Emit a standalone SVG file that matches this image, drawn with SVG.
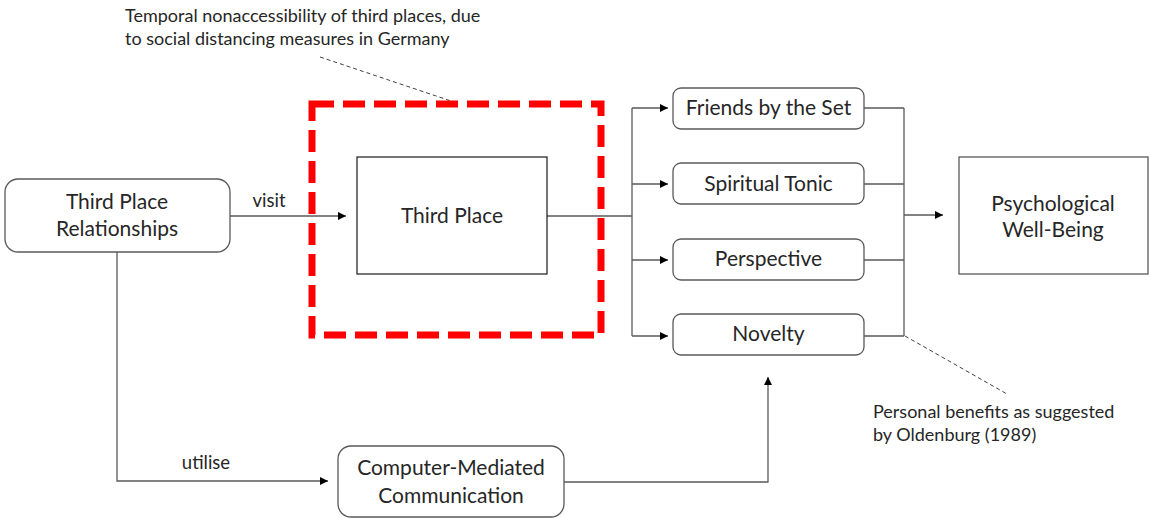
<svg xmlns="http://www.w3.org/2000/svg" width="1149" height="518" viewBox="0 0 1149 518">
<defs>
<marker id="arr" viewBox="0 0 10 10" refX="10" refY="5" markerWidth="8" markerHeight="8" markerUnits="userSpaceOnUse" orient="auto">
<path d="M0,0 L10,5 L0,10 z" fill="#000"/>
</marker>
<style>
.t{font-family:Lato,"Liberation Sans",sans-serif;fill:#262626;text-anchor:middle;font-size:21px}
.lbl{font-family:Lato,"Liberation Sans",sans-serif;fill:#262626;text-anchor:middle;font-size:18.5px}
.a{font-family:Lato,"Liberation Sans",sans-serif;fill:#262626;font-size:18px}
.box{fill:#fff;stroke:#595959;stroke-width:1.3}
.c{fill:none;stroke:#595959;stroke-width:1.3}
.ca{fill:none;stroke:#595959;stroke-width:1.3;marker-end:url(#arr)}
.lead{fill:none;stroke:#404040;stroke-width:1;stroke-dasharray:4 3}
</style>
</defs>
<rect width="1149" height="518" fill="#fff"/>
<g id="connectors">
<path class="ca" d="M230,216 H346"/>
<path class="c" d="M547,216 H632"/>
<path class="c" d="M632,108 V336"/>
<path class="ca" d="M632,108 H668"/>
<path class="ca" d="M632,184 H668"/>
<path class="ca" d="M632,260 H668"/>
<path class="ca" d="M632,336 H668"/>
<path class="c" d="M864,108 H904 M864,184 H904 M864,260 H904 M864,336 H904"/>
<path class="c" d="M904,108 V336"/>
<path class="ca" d="M904,215 H943"/>
<path class="ca" d="M117,252 V481 H328"/>
<path class="ca" d="M564,482 H768 V377"/>
<text class="lbl" x="269" y="207">visit</text>
<text class="lbl" x="206" y="469">utilise</text>
</g>
<g id="annotation-top">
<text class="a" x="125" y="22">Temporal nonaccessibility of third places, due</text>
<text class="a" x="125" y="45">to social distancing measures in Germany</text>
<path class="lead" d="M320,57 L457,103"/>
</g>
<g id="annotation-bottom">
<text class="a" x="873" y="418">Personal benefits as suggested</text>
<text class="a" x="873" y="441">by Oldenburg (1989)</text>
<path class="lead" d="M905,336 L1007,394"/>
</g>
<g id="lockdown-frame">
<rect x="312" y="104" width="289" height="231" fill="none" stroke="#ff0000" stroke-width="7" stroke-dasharray="22 9"/>
</g>
<g id="node-relationships">
<rect class="box" x="5" y="179" width="225" height="73" rx="13"/>
<text class="t" x="117" y="209">Third Place</text>
<text class="t" x="117" y="236">Relationships</text>
</g>
<g id="node-third-place">
<rect x="357" y="157" width="190" height="117" fill="#fff" stroke="#1a1a1a" stroke-width="1.2"/>
<text class="t" x="452" y="223">Third Place</text>
</g>
<g id="node-friends">
<rect class="box" x="673" y="88" width="191" height="41" rx="8"/>
<text class="t" x="768.5" y="115">Friends by the Set</text>
</g>
<g id="node-spiritual">
<rect class="box" x="673" y="163" width="191" height="41" rx="8"/>
<text class="t" x="768.5" y="191">Spiritual Tonic</text>
</g>
<g id="node-perspective">
<rect class="box" x="673" y="239" width="191" height="41" rx="8"/>
<text class="t" x="768.5" y="266">Perspective</text>
</g>
<g id="node-novelty">
<rect class="box" x="673" y="314" width="191" height="41" rx="8"/>
<text class="t" x="768.5" y="341">Novelty</text>
</g>
<g id="node-wellbeing">
<rect class="box" x="959" y="157" width="189" height="117"/>
<text class="t" x="1053" y="211">Psychological</text>
<text class="t" x="1053" y="237">Well-Being</text>
</g>
<g id="node-cmc">
<rect class="box" x="338" y="446" width="226" height="71" rx="13"/>
<text class="t" x="451" y="475">Computer-Mediated</text>
<text class="t" x="451" y="503">Communication</text>
</g>
</svg>
